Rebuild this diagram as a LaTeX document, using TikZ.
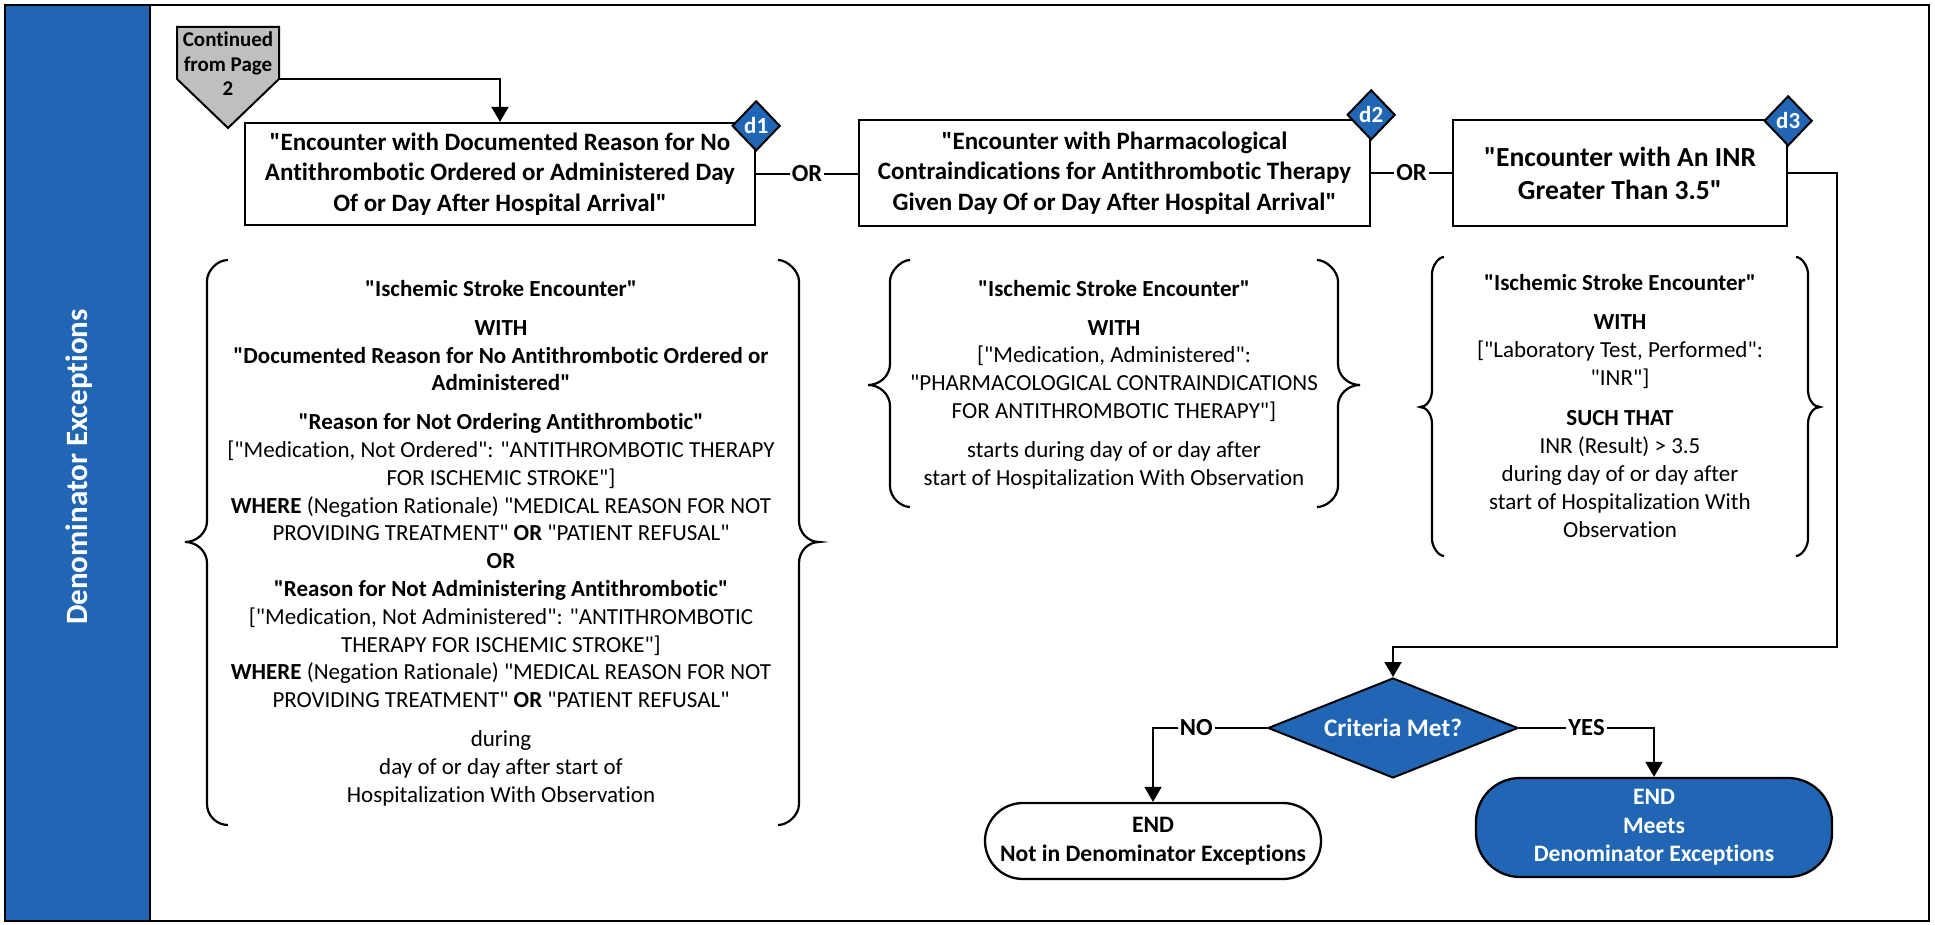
\documentclass[tikz,border=0pt]{standalone}
\usepackage{fontspec}
\setmainfont{Carlito}[Ligatures={TeXOff,CommonOff}]
\usetikzlibrary{shapes.geometric, arrows.meta}
\definecolor{mblue}{RGB}{33,102,180}
\definecolor{mgrey}{RGB}{191,191,191}
\begin{document}
\begin{tikzpicture}[x=0.5pt, y=-0.5pt,
  box/.style={draw, line width=1.15pt, fill=white, align=center, inner sep=2pt, font=\fontsize{12.5}{15.25}\selectfont\bfseries},
  tag/.style={diamond, draw, line width=1pt, fill=mblue, text=white, inner sep=0pt, minimum width=24pt, minimum height=25pt, font=\fontsize{11.5}{12}\selectfont\bfseries},
  txt/.style={align=center, inner sep=0pt, font=\fontsize{11.5}{13.9}\selectfont},
  conn/.style={line width=1pt},
  arr/.style={conn, -{Triangle[length=7.5pt,width=8.5pt]}},
  lbl/.style={fill=white, inner sep=1pt, font=\fontsize{12.3}{14}\selectfont\bfseries},
  brace/.style={line width=1.1pt},
  endbox/.style={draw, line width=1.15pt, align=center, font=\fontsize{11.8}{14.25}\selectfont\bfseries},
]
\useasboundingbox (0,0) rectangle (1935,925);
% lane band and frame
\fill[mblue] (5,5) rectangle (150,921);
\draw[line width=1.25pt] (5,5) rectangle (1929,921);
\draw[line width=1.25pt] (150,5) -- (150,921);
\node[rotate=90, text=white, font=\fontsize{15.5}{17}\selectfont\bfseries] (lane) at (79,467) {Denominator Exceptions};

% off-page connector
\draw[line width=1pt, fill=mgrey] (177,27) -- (279,27) -- (279,79) -- (228,128) -- (177,79) -- cycle;
\node[align=center, inner sep=0pt, font=\fontsize{10.5}{12.25}\selectfont\bfseries] (cont) at (228,64) {Continued\\from Page\\2};
\coordinate (contr) at (279,79);

% top boxes
\node[box, minimum width=255pt, minimum height=51pt] (d1) at (500,174)
  {"Encounter with Documented Reason for No\\Antithrombotic Ordered or Administered Day\\Of or Day After Hospital Arrival"};
\node[box, minimum width=255.5pt, minimum height=53pt] (d2) at (1114.5,173)
  {"Encounter with Pharmacological\\Contraindications for Antithrombotic Therapy\\Given Day Of or Day After Hospital Arrival"};
\node[box, font=\fontsize{13.8}{16.5}\selectfont\bfseries, minimum width=167pt, minimum height=53pt] (d3) at (1620,173)
  {"Encounter with An INR\\Greater Than 3.5"};

\node[tag] (t1) at ([yshift=-2pt]d1.north east) {d1};
\node[tag] (t2) at ([yshift=2pt]d2.north east) {d2};
\node[tag] (t3) at ([yshift=-1pt]d3.north east) {d3};

\draw[arr] (contr) -| (d1.north);
\draw[conn] (d1.east) -- node[lbl]{OR} (d2.west |- d1.east);
\draw[conn] (d2.east) -- node[lbl]{OR} (d3.west |- d2.east);

% braces
\draw[brace] (228,260) .. controls (216.5,260) and (207,271.5) .. (207,281) -- (207,521) .. controls (207,532.5) and (197,542) .. (185,542) .. controls (197,542) and (207,551.5) .. (207,563) -- (207,804) .. controls (207,815.5) and (216.5,825) .. (228,825);
\draw[brace] (778,260) .. controls (787.5,260) and (799,271.5) .. (799,281) -- (799,521) .. controls (799,532.5) and (808,542) .. (819,542) .. controls (808,542) and (799,551.5) .. (799,563) -- (799,804) .. controls (799,815.5) and (787.5,825) .. (778,825);

\draw[brace] (910,260) .. controls (901,260) and (890,271.5) .. (890,281) -- (890,364) .. controls (890,375.5) and (880,385) .. (868,385) .. controls (880,385) and (890,394.5) .. (890,406) -- (890,486) .. controls (890,497.5) and (901,507) .. (910,507);
\draw[brace] (1317,260) .. controls (1326.5,260) and (1338,271.5) .. (1338,281) -- (1338,364) .. controls (1338,375.5) and (1348,385) .. (1360,385) .. controls (1348,385) and (1338,394.5) .. (1338,406) -- (1338,486) .. controls (1338,497.5) and (1326.5,507) .. (1317,507);

\draw[brace] (1444,257) .. controls (1438.5,257) and (1432,266) .. (1432,274) -- (1432,390) .. controls (1432,399.5) and (1426.5,407) .. (1420,407) .. controls (1426.5,407) and (1432,414.5) .. (1432,424) -- (1432,539) .. controls (1432,547) and (1438.5,556) .. (1444,556);
\draw[brace] (1796,257) .. controls (1801.5,257) and (1808,266) .. (1808,274) -- (1808,390) .. controls (1808,399.5) and (1813.5,407) .. (1820,407) .. controls (1813.5,407) and (1808,414.5) .. (1808,424) -- (1808,539) .. controls (1808,547) and (1801.5,556) .. (1796,556);

% bracket texts
\node[txt] (b1) at (501,543) {%
\textbf{"Ischemic Stroke Encounter"}\\[5.5pt]
\textbf{WITH}\\
\textbf{"Documented Reason for No Antithrombotic Ordered or}\\
\textbf{Administered"}\\[5.5pt]
\textbf{"Reason for Not Ordering Antithrombotic"}\\
{[}"Medication, Not Ordered": "ANTITHROMBOTIC THERAPY\\
FOR ISCHEMIC STROKE"]\\
\textbf{WHERE} (Negation Rationale) "MEDICAL REASON FOR NOT\\
PROVIDING TREATMENT" \textbf{OR} "PATIENT REFUSAL"\\
\textbf{OR}\\
\textbf{"Reason for Not Administering Antithrombotic"}\\
{[}"Medication, Not Administered": "ANTITHROMBOTIC\\
THERAPY FOR ISCHEMIC STROKE"]\\
\textbf{WHERE} (Negation Rationale) "MEDICAL REASON FOR NOT\\
PROVIDING TREATMENT" \textbf{OR} "PATIENT REFUSAL"\\[5.5pt]
during\\
day of or day after start of\\
Hospitalization With Observation};

\node[txt] (b2) at (1114,384.5) {%
\textbf{"Ischemic Stroke Encounter"}\\[5.5pt]
\textbf{WITH}\\
{[}"Medication, Administered":\\
"PHARMACOLOGICAL CONTRAINDICATIONS\\
FOR ANTITHROMBOTIC THERAPY"]\\[5.5pt]
starts during day of or day after\\
start of Hospitalization With Observation};

\node[txt] (b3) at (1620,406) {%
\textbf{"Ischemic Stroke Encounter"}\\[5.5pt]
\textbf{WITH}\\
{[}"Laboratory Test, Performed":\\
"INR"]\\[6.5pt]
\textbf{SUCH THAT}\\
INR (Result) > 3.5\\
during day of or day after\\
start of Hospitalization With\\
Observation};

% decision
\node[diamond, aspect=2.5, draw, line width=1pt, fill=mblue, text=white, minimum width=125pt, minimum height=50pt, inner sep=1pt, font=\fontsize{12.6}{14}\selectfont\bfseries] (crit) at (1393,728) {Criteria Met?};
\coordinate (turn) at (1837,647);
\draw[arr] (d3.east) -| (turn) -| (crit.north);

% ends
\node[endbox, fill=white, rounded corners=19pt, minimum width=168pt, minimum height=38pt] (endno) at (1153,841) {END\\Not in Denominator Exceptions};
\node[endbox, fill=mblue, text=white, rounded corners=22pt, minimum width=178pt, minimum height=49.5pt] (endyes) at (1654,827.5) {END\\Meets\\Denominator Exceptions};

\draw[arr] (crit.west) -| node[lbl, pos=0.31]{NO} (endno.north);
\draw[arr] (crit.east) -| node[lbl, pos=0.25]{YES} (endyes.north);
\end{tikzpicture}
\end{document}
